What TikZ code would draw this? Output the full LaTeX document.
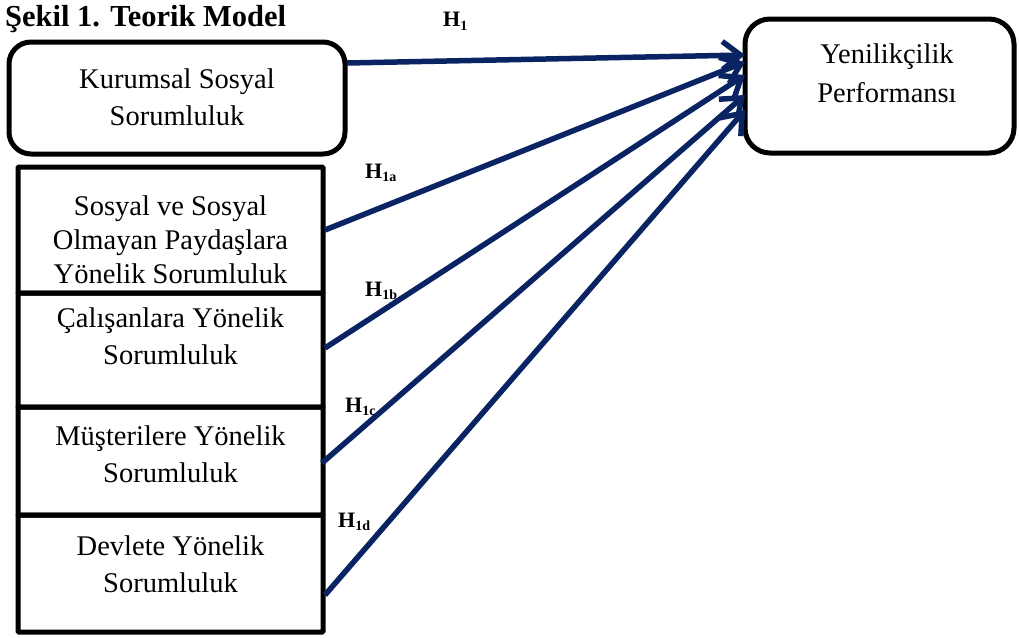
\documentclass[tikz,border=0pt]{standalone}
\usepackage{fontspec}
\setmainfont{Liberation Serif}
\usetikzlibrary{arrows.meta}
\definecolor{navy}{RGB}{10,36,99}
\newcommand{\hsub}[1]{H\raisebox{-3.5pt}{\fontsize{14}{14}\selectfont #1}}
\begin{document}
\begin{tikzpicture}[x=1pt,y=-1pt,
 box/.style={draw=black, line width=5pt},
 rbox/.style={box, rounded corners=22pt},
 sbox/.style={box, rounded corners=1pt, minimum width=305pt},
 txt/.style={align=center, inner sep=0pt, anchor=base, font=\fontsize{28.5}{37}\selectfont},
 hyp/.style={draw=navy, line width=5.5pt, -{Straight Barb[length=18pt,width=28pt]}},
 hlab/.style={anchor=base west, inner sep=0pt, font=\fontsize{22}{22}\selectfont\bfseries}]
\useasboundingbox (0,0) rectangle (1019,637);
% title
\node[anchor=base west, inner sep=0pt, font=\fontsize{30.5}{30.5}\selectfont\bfseries] (title) at (5,27) {Şekil 1. Teorik Model};
% boxes
\node[rbox, minimum width=336pt, minimum height=112pt] (kss) at (177,98) {};
\node[rbox, rounded corners=25pt, minimum width=269pt, minimum height=134pt] (yp) at (879.5,86) {};
\node[sbox, minimum height=126pt] (a) at (170.5,230) {};
\node[sbox, minimum height=114pt] (b) at (170.5,350) {};
\node[sbox, minimum height=108pt] (c) at (170.5,461) {};
\node[sbox, minimum height=117pt] (d) at (170.5,573.5) {};
% texts (anchor base = baseline of last line)
\node[txt] (kssT) at (177,125) {Kurumsal Sosyal\\Sorumluluk};
\node[txt, font=\fontsize{28.5}{39}\selectfont] (ypT) at (887,102) {Yenilikçilik\\Performansı};
\node[txt, font=\fontsize{28.5}{34}\selectfont] (aT) at (170.5,283) {Sosyal ve Sosyal\\Olmayan Paydaşlara\\Yönelik Sorumluluk};
\node[txt] (bT) at (170.5,364) {Çalışanlara Yönelik\\Sorumluluk};
\node[txt] (cT) at (170.5,482) {Müşterilere Yönelik\\Sorumluluk};
\node[txt] (dT) at (170.5,592) {Devlete Yönelik\\Sorumluluk};
% connector ends
\coordinate (s0) at (347,63);
\coordinate (s1) at (325,230);
\coordinate (s2) at (325,348);
\coordinate (s3) at (322,463);
\coordinate (s4) at (325,595);
\coordinate (e0) at (745,55);
\coordinate (e1) at (745,62);
\coordinate (e2) at (745,75);
\coordinate (e3) at (745,95);
\coordinate (e4) at (745,110);
\draw[hyp] (s0) -- (e0);
\draw[hyp] (s1) -- (e1);
\draw[hyp] (s2) -- (e2);
\draw[hyp] (s3) -- (e3);
\draw[hyp] (s4) -- (e4);
% labels
\node[hlab] (h1) at (443,27) {\hsub{1}};
\node[hlab] (h1a) at (365,178) {\hsub{1a}};
\node[hlab] (h1b) at (365,296) {\hsub{1b}};
\node[hlab] (h1c) at (345,412) {\hsub{1c}};
\node[hlab] (h1d) at (338,527) {\hsub{1d}};
\end{tikzpicture}
\end{document}
